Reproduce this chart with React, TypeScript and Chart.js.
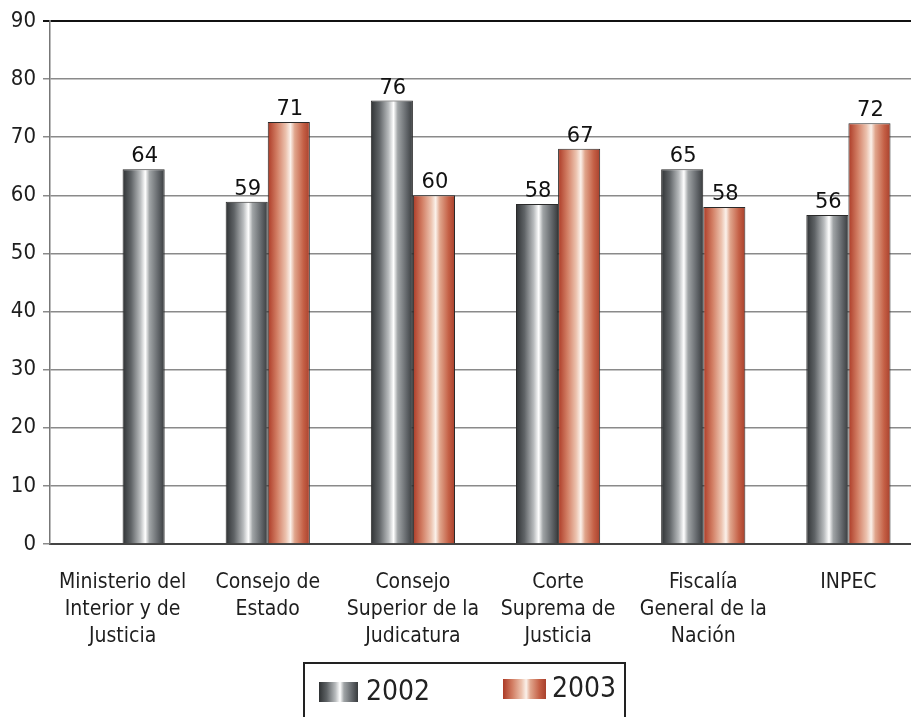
import React, { useEffect, useRef } from 'react';
import { Chart, registerables } from 'chart.js';

Chart.register(...registerables);

const categories: string[][] = [
  ['Ministerio del', 'Interior y de', 'Justicia'],
  ['Consejo de', 'Estado'],
  ['Consejo', 'Superior de la', 'Judicatura'],
  ['Corte', 'Suprema de', 'Justicia'],
  ['Fiscalía', 'General de la', 'Nación'],
  ['INPEC'],
];
const seriesNames = ['2002', '2003'];
const values2002: (number | null)[] = [64.5, 58.9, 76.3, 58.5, 64.5, 56.6];
const values2003: (number | null)[] = [null, 72.6, 60.0, 68.0, 58.0, 72.4];
const labels2002 = ['64', '59', '76', '58', '65', '56'];
const labels2003 = ['', '71', '60', '67', '58', '72'];
const yMin = 0;
const yMax = 90;
const yStep = 10;

const NARROW = "'Liberation Sans Narrow', 'DejaVu Sans Condensed', 'Roboto Condensed', sans-serif";

const grayStops: [number, string][] = [
  [0, '#2f3234'], [0.2, '#5f6366'], [0.42, '#b8bbbd'], [0.54, '#ffffff'],
  [0.64, '#a0a4a6'], [0.85, '#62666a'], [1, '#383b3d'],
];
const redStops: [number, string][] = [
  [0, '#ac3a26'], [0.22, '#d27e64'], [0.43, '#ecc2ae'], [0.54, '#fbf1ea'],
  [0.64, '#e0a58c'], [0.85, '#c45f45'], [1, '#a8402c'],
];

function makeGrad(ctx: CanvasRenderingContext2D, x0: number, x1: number, stops: [number, string][]) {
  const g = ctx.createLinearGradient(x0, 0, x1, 0);
  stops.forEach(([o, c]) => g.addColorStop(o, c));
  return g;
}

export default function App() {
  const ref = useRef<HTMLCanvasElement>(null);

  useEffect(() => {
    if (!ref.current) return;
    const datasets = [values2002, values2003];
    const valueLabels = [labels2002, labels2003];
    const stopsFor = [grayStops, redStops];

    const barStylePlugin = {
      id: 'barStyle',
      beforeDatasetsDraw(chart: any) {
        const ctx = chart.ctx;
        const m0 = chart.getDatasetMeta(0);
        const m1 = chart.getDatasetMeta(1);
        // a lone 2002 bar takes the empty 2003 slot, as in the source
        m0.data.forEach((el: any, i: number) => {
          if (values2003[i] == null && !el.$moved) {
            const other = m1.data[i];
            el.x = other && isFinite(other.x) ? other.x : el.x + el.width;
            el.$moved = true;
          }
        });
        [m0, m1].forEach((meta: any, di: number) => {
          meta.data.forEach((el: any) => {
            const g = makeGrad(ctx, el.x - el.width / 2, el.x + el.width / 2, stopsFor[di]);
            try {
              el.options.backgroundColor = g;
            } catch (e) {
              el.options = { ...el.options, backgroundColor: g };
            }
          });
        });
      },
    };

    const valueLabelPlugin = {
      id: 'valueLabels',
      afterDatasetsDraw(chart: any) {
        const ctx = chart.ctx;
        ctx.save();
        ctx.font = "21px 'DejaVu Sans', sans-serif";
        ctx.fillStyle = '#111';
        ctx.textAlign = 'center';
        ctx.textBaseline = 'alphabetic';
        [0, 1].forEach((di) => {
          const meta = chart.getDatasetMeta(di);
          meta.data.forEach((el: any, i: number) => {
            const t = valueLabels[di][i];
            if (!t || datasets[di][i] == null) return;
            ctx.fillText(t, el.x + 1, el.y - 7);
          });
        });
        ctx.restore();
      },
    };

    const boxLegendPlugin = {
      id: 'boxLegend',
      afterDraw(chart: any) {
        const ctx = chart.ctx;
        ctx.save();
        ctx.strokeStyle = '#222';
        ctx.lineWidth = 2;
        ctx.strokeRect(304, 663, 321, 80);
        const items = [
          { x: 319, y: 682, w: 39, h: 20, tx: 366, stops: grayStops },
          { x: 503, y: 679, w: 43, h: 20, tx: 552, stops: redStops },
        ];
        ctx.font = `28px ${NARROW}`;
        ctx.textBaseline = 'middle';
        ctx.textAlign = 'left';
        items.forEach((it, k) => {
          ctx.fillStyle = makeGrad(ctx, it.x, it.x + it.w, it.stops);
          ctx.fillRect(it.x, it.y, it.w, it.h);
          ctx.fillStyle = '#222';
          ctx.fillText(seriesNames[k], it.tx, it.y + it.h / 2 + 1);
        });
        ctx.restore();
      },
    };

    const chart = new Chart(ref.current, {
      type: 'bar',
      data: {
        labels: categories,
        datasets: seriesNames.map((name, di) => ({
          label: name,
          data: datasets[di],
          backgroundColor: (c: any) => (c.datasetIndex === 0 ? '#777' : '#c86'),
          borderColor: '#2a2a2a',
          borderWidth: 1,
          barPercentage: 1.0,
          categoryPercentage: 0.58,
        })),
      },
      options: {
        animation: false,
        responsive: true,
        maintainAspectRatio: false,
        layout: { padding: { top: 21, left: 0, right: 4, bottom: 0 } },
        plugins: {
          legend: { display: false },
          tooltip: { enabled: false },
        },
        scales: {
          x: {
            grid: { display: false, drawTicks: false },
            border: { display: true, color: '#444', width: 2 },
            ticks: {
              font: { size: 21, family: NARROW, lineHeight: 1.28 },
              color: '#1e1e1e',
              padding: 25,
              maxRotation: 0,
              autoSkip: false,
            },
            afterFit: (s: any) => { s.height = 173; },
          },
          y: {
            min: yMin,
            max: yMax,
            ticks: {
              stepSize: yStep,
              font: { size: 22, family: NARROW },
              color: '#1e1e1e',
              padding: 7,
            },
            grid: {
              color: (c: any) => (c.tick && c.tick.value === yMax ? '#111' : '#8a8a8a'),
              lineWidth: (c: any) => (c.tick && c.tick.value === yMax ? 2 : 1.5),
              tickLength: 7,
            },
            border: { display: true, color: '#777', width: 1.5 },
            afterFit: (s: any) => { s.width = 50; },
          },
        },
      },
      plugins: [barStylePlugin, valueLabelPlugin, boxLegendPlugin],
    });
    return () => chart.destroy();
  }, []);

  return (
    <div style={{ position: 'fixed', left: 0, top: 0, width: 925, height: 717, background: '#fff' }}>
      <canvas ref={ref} />
    </div>
  );
}
